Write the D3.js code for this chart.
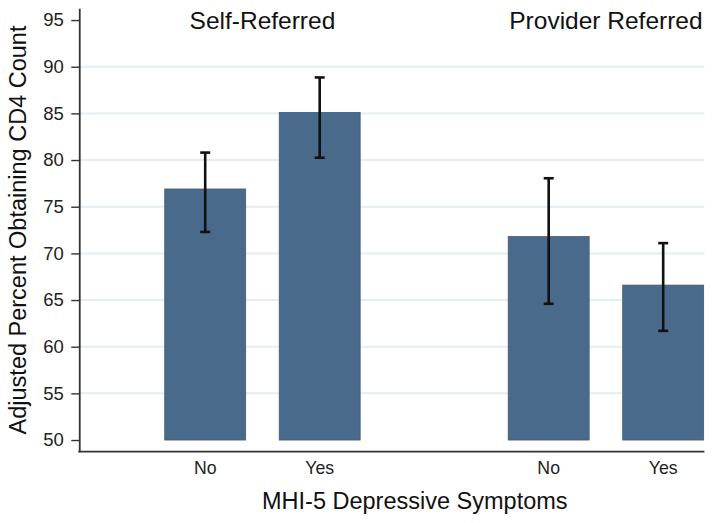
<!DOCTYPE html>
<html>
<head>
<meta charset="utf-8">
<script src="https://cdn.jsdelivr.net/npm/d3@7"></script>
<style>
  html, body { margin: 0; padding: 0; background: #fff; }
  svg { display: block; font-family: "Liberation Sans", Arial, Helvetica, sans-serif; }
</style>
</head>
<body>
<svg id="chart" width="714" height="523"></svg>
<script>
// Adjusted percent obtaining CD4 count, by referral type and MHI-5 symptoms
const groups   = ['Self-Referred', 'Provider Referred'];
const symptoms = ['No', 'Yes'];
// one row per group, one value per symptom level
const values = [[76.9, 85.1], [71.8, 66.6]];
const ciLow  = [[72.3, 80.25], [64.6, 61.7]];
const ciHigh = [[80.8, 88.85], [78.05, 71.1]];
const yTicks = [50, 55, 60, 65, 70, 75, 80, 85, 90, 95];
const gridTicks = [55, 60, 65, 70, 75, 80, 85, 90];

// plot frame (window.top is reserved, hence the m prefix)
const mLeft = 79.25, mRight = 704.4, mTop = 8.3, mBottom = 451.7;

const rows = [];
groups.forEach((g, gi) => symptoms.forEach((s, si) => rows.push({
  group: g, sym: s, slot: gi * 3 + si,
  v: values[gi][si], lo: ciLow[gi][si], hi: ciHigh[gi][si]
})));

const x = d3.scaleLinear().domain([-1.1, 4.36]).range([mLeft, mRight]);
const y = d3.scaleLinear().domain([48.75, 96.26]).range([mBottom, mTop]);
const barW = x(0.707) - x(0);

const svg = d3.select('#chart');

// gridlines
svg.append('g').selectAll('line').data(gridTicks).join('line')
  .attr('x1', mLeft).attr('x2', mRight)
  .attr('y1', d => y(d)).attr('y2', d => y(d))
  .attr('stroke', '#e4edf1').attr('stroke-width', 2);

// bars
svg.append('g').selectAll('rect').data(rows).join('rect')
  .attr('x', d => x(d.slot) - barW / 2)
  .attr('width', barW)
  .attr('y', d => y(d.v))
  .attr('height', d => y(50) - y(d.v))
  .attr('fill', '#4a6a8b')
  .attr('stroke', '#3d5c7a').attr('stroke-width', 0.8);

// error bars
const eb = svg.append('g').attr('stroke', '#111').attr('stroke-width', 2.6);
eb.selectAll('line.v').data(rows).join('line').attr('class', 'v')
  .attr('x1', d => x(d.slot)).attr('x2', d => x(d.slot))
  .attr('y1', d => y(d.lo)).attr('y2', d => y(d.hi));
['lo', 'hi'].forEach(k => {
  eb.selectAll('line.' + k).data(rows).join('line').attr('class', k)
    .attr('x1', d => x(d.slot) - 5).attr('x2', d => x(d.slot) + 5)
    .attr('y1', d => y(d[k])).attr('y2', d => y(d[k]));
});

// y axis
const yAxis = svg.append('g').attr('transform', `translate(${mLeft},0)`)
  .call(d3.axisLeft(y).tickValues(yTicks).tickSize(8).tickPadding(7.5).tickSizeOuter(0));
yAxis.select('.domain').attr('stroke', '#333').attr('stroke-width', 1.8);
yAxis.selectAll('.tick line').attr('stroke', '#333').attr('stroke-width', 1.4);
yAxis.selectAll('.tick text').attr('font-size', '18.5px').attr('fill', '#222');
yAxis.attr('font-family', null);

// x axis line
svg.append('line')
  .attr('x1', mLeft - 0.9).attr('x2', mRight)
  .attr('y1', mBottom).attr('y2', mBottom)
  .attr('stroke', '#333').attr('stroke-width', 1.8);

// category labels
svg.append('g').selectAll('text').data(rows).join('text')
  .attr('x', d => x(d.slot)).attr('y', 474)
  .attr('text-anchor', 'middle').attr('font-size', '17.7px').attr('fill', '#222')
  .text(d => d.sym);

// group labels
svg.append('g').selectAll('text').data(groups).join('text')
  .attr('x', (d, i) => x(i * 3 + 0.5)).attr('y', 28.5)
  .attr('text-anchor', 'middle').attr('font-size', '24.5px').attr('fill', '#111')
  .text(d => d);

// axis titles
svg.append('text')
  .attr('x', 414.8).attr('y', 509)
  .attr('text-anchor', 'middle').attr('font-size', '23.5px').attr('fill', '#111')
  .text('MHI-5 Depressive Symptoms');

svg.append('text')
  .attr('transform', `translate(26,${(mTop + mBottom) / 2}) rotate(-90)`)
  .attr('text-anchor', 'middle').attr('font-size', '23.5px').attr('fill', '#111')
  .text('Adjusted Percent Obtaining CD4 Count');
</script>
</body>
</html>
